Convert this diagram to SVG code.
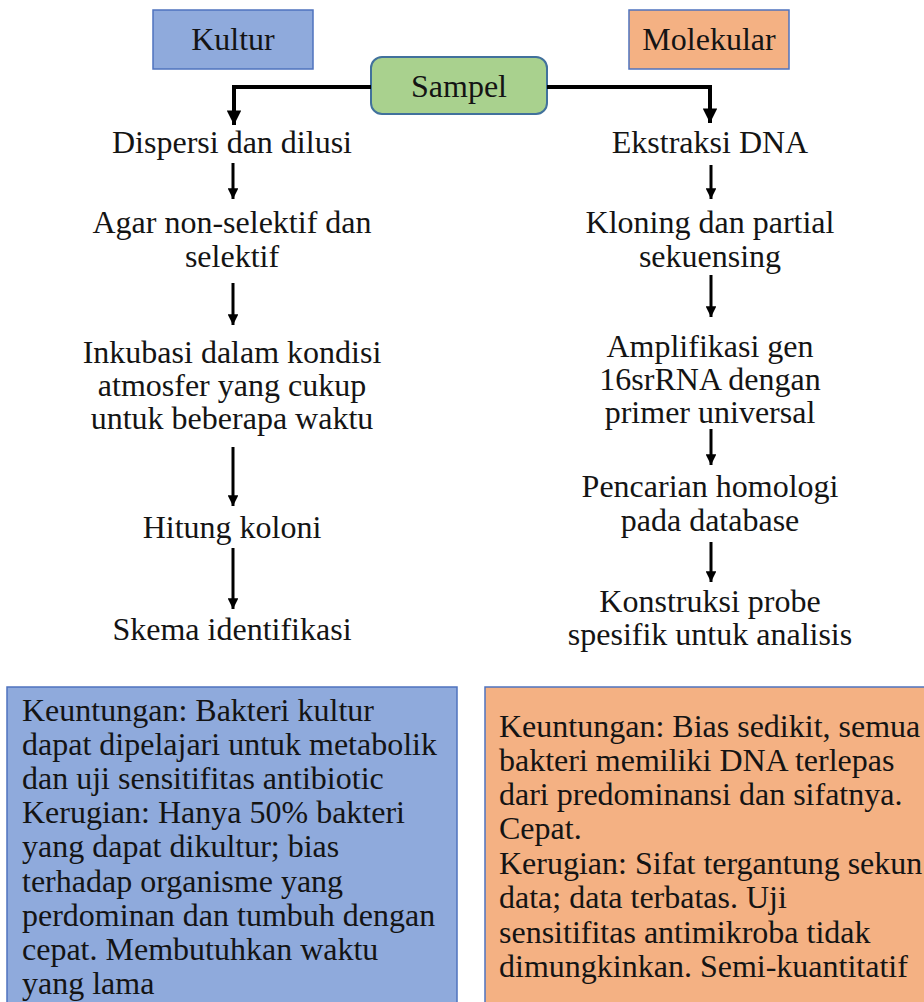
<svg xmlns="http://www.w3.org/2000/svg" width="924" height="1002" viewBox="0 0 924 1002">
  <style>
    .t { font-family: "Liberation Serif", "Times New Roman", serif; font-size: 32px; fill: #141414; }
    .c { text-anchor: middle; }
    .blue { fill: #8FAADC; stroke: #4F73BE; stroke-width: 1.5; }
    .orange { fill: #F4B183; stroke: #4F73BE; stroke-width: 1.5; }
    .green { fill: #A9D18E; stroke: #41719C; stroke-width: 2; }
    .link { fill: none; stroke: #000; stroke-width: 4; }
    .step { fill: none; stroke: #000; stroke-width: 3; }
  </style>
  <defs>
    <marker id="head" viewBox="0 0 10 10" refX="10" refY="5" markerWidth="4" markerHeight="3.6" markerUnits="strokeWidth" orient="auto">
      <path d="M0,0 L10,5 L0,10 Z" fill="#000"/>
    </marker>
  </defs>
  <rect width="924" height="1002" fill="#fff"/>

  <!-- branch headers -->
  <g id="kultur">
    <rect class="blue" x="153" y="10" width="160" height="59"/>
    <text class="t c" x="233" y="50">Kultur</text>
  </g>
  <g id="molekular">
    <rect class="orange" x="629" y="10" width="160" height="59"/>
    <text class="t c" x="709" y="50">Molekular</text>
  </g>
  <g id="sampel">
    <rect class="green" x="371" y="57" width="176" height="57" rx="11"/>
    <text class="t c" x="459" y="97">Sampel</text>
  </g>

  <!-- connectors -->
  <g id="connectors">
    <path class="link" d="M371,87 H234 V125" marker-end="url(#head)"/>
    <path class="link" d="M547,87 H710 V123" marker-end="url(#head)"/>
    <!-- culture column -->
    <path class="step" d="M233,163 V199" marker-end="url(#head)"/>
    <path class="step" d="M233,283 V325" marker-end="url(#head)"/>
    <path class="step" d="M233,447 V506" marker-end="url(#head)"/>
    <path class="step" d="M233,548 V609" marker-end="url(#head)"/>
    <!-- molecular column -->
    <path class="step" d="M711,165 V199" marker-end="url(#head)"/>
    <path class="step" d="M711,275 V317" marker-end="url(#head)"/>
    <path class="step" d="M711,429 V465" marker-end="url(#head)"/>
    <path class="step" d="M711,542 V582" marker-end="url(#head)"/>
  </g>

  <!-- culture steps -->
  <g id="dispersi"><text class="t c" x="232" y="153">Dispersi dan dilusi</text></g>
  <g id="agar">
    <text class="t c" x="232" y="233">Agar non-selektif dan</text>
    <text class="t c" x="232" y="267">selektif</text>
  </g>
  <g id="inkubasi">
    <text class="t c" x="232" y="363">Inkubasi dalam kondisi</text>
    <text class="t c" x="232" y="396">atmosfer yang cukup</text>
    <text class="t c" x="232" y="429">untuk beberapa waktu</text>
  </g>
  <g id="hitung"><text class="t c" x="232" y="538">Hitung koloni</text></g>
  <g id="skema"><text class="t c" x="232" y="640">Skema identifikasi</text></g>

  <!-- molecular steps -->
  <g id="ekstraksi"><text class="t c" x="710" y="153">Ekstraksi DNA</text></g>
  <g id="kloning">
    <text class="t c" x="710" y="233">Kloning dan partial</text>
    <text class="t c" x="710" y="267">sekuensing</text>
  </g>
  <g id="amplifikasi">
    <text class="t c" x="710" y="357">Amplifikasi gen</text>
    <text class="t c" x="710" y="390">16srRNA dengan</text>
    <text class="t c" x="710" y="423">primer universal</text>
  </g>
  <g id="pencarian">
    <text class="t c" x="710" y="497">Pencarian homologi</text>
    <text class="t c" x="710" y="531">pada database</text>
  </g>
  <g id="konstruksi">
    <text class="t c" x="710" y="612">Konstruksi probe</text>
    <text class="t c" x="710" y="645">spesifik untuk analisis</text>
  </g>

  <!-- summary panels -->
  <g id="kultur-summary">
    <rect class="blue" x="7" y="687" width="450" height="330"/>
    <text class="t" x="22" y="721">Keuntungan: Bakteri kultur</text>
    <text class="t" x="22" y="755">dapat dipelajari untuk metabolik</text>
    <text class="t" x="22" y="789">dan uji sensitifitas antibiotic</text>
    <text class="t" x="22" y="823">Kerugian: Hanya 50% bakteri</text>
    <text class="t" x="22" y="857">yang dapat dikultur; bias</text>
    <text class="t" x="22" y="892">terhadap organisme yang</text>
    <text class="t" x="22" y="926">perdominan dan tumbuh dengan</text>
    <text class="t" x="22" y="960">cepat. Membutuhkan waktu</text>
    <text class="t" x="22" y="994">yang lama</text>
  </g>
  <g id="molekular-summary">
    <rect class="orange" x="485" y="687" width="450" height="330"/>
    <text class="t" x="499" y="737">Keuntungan: Bias sedikit, semua</text>
    <text class="t" x="499" y="771">bakteri memiliki DNA terlepas</text>
    <text class="t" x="499" y="805">dari predominansi dan sifatnya.</text>
    <text class="t" x="499" y="839">Cepat.</text>
    <text class="t" x="499" y="874">Kerugian: Sifat tergantung sekun</text>
    <text class="t" x="499" y="908">data; data terbatas. Uji</text>
    <text class="t" x="499" y="943">sensitifitas antimikroba tidak</text>
    <text class="t" x="499" y="977">dimungkinkan. Semi-kuantitatif</text>
  </g>
</svg>
